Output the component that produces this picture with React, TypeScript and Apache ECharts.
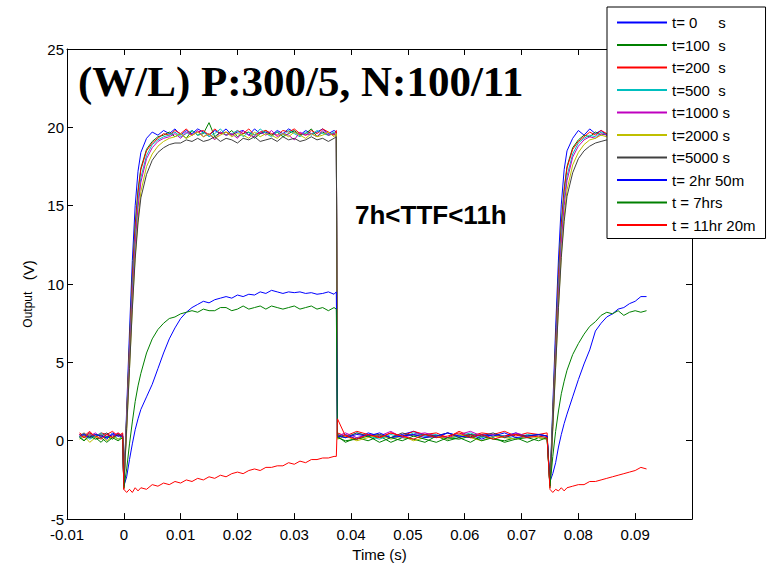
import React, { useEffect, useRef } from "react";
import * as echarts from "echarts";

// Time samples (s), shared by every trace
const times = [
  -0.0078, -0.007, -0.006, -0.005, -0.004, -0.003, -0.002, -0.001, -0.0002,
  0, 0.0005, 0.001, 0.0015, 0.002, 0.0025, 0.003, 0.004, 0.005, 0.006, 0.007,
  0.008, 0.009, 0.01, 0.011, 0.012, 0.013, 0.014, 0.015, 0.016, 0.017,
  0.018, 0.019, 0.02, 0.021, 0.022, 0.023, 0.024, 0.025, 0.026, 0.027,
  0.028, 0.029, 0.03, 0.031, 0.032, 0.033, 0.034, 0.035, 0.036, 0.037, 0.0374,
  0.0376, 0.039, 0.041, 0.043, 0.045, 0.047, 0.049, 0.051, 0.053, 0.055,
  0.057, 0.059, 0.061, 0.063, 0.065, 0.067, 0.069, 0.071, 0.073, 0.0745,
  0.075, 0.0755, 0.076, 0.0765, 0.077, 0.0775, 0.078, 0.079, 0.08, 0.081, 0.082,
  0.083, 0.084, 0.085, 0.086, 0.087, 0.088, 0.089, 0.09, 0.091, 0.092,
];

const v_t0 = [
  0.4, 0.2, 0.5, 0.3, 0.4, 0.1, 0.5, 0.3, 0.4,
  -3.0, 2.0, 7.0, 11.5, 15.0, 17.2, 18.4, 19.3, 19.7, 19.5, 19.8,
  19.6, 19.9, 19.5, 19.8, 19.6, 19.9, 19.7, 19.5, 19.8, 19.6,
  19.9, 19.5, 19.7, 19.8, 19.5, 19.9, 19.6, 19.7, 19.5, 19.8,
  19.6, 19.9, 19.7, 19.5, 19.8, 19.6, 19.7, 19.9, 19.6, 19.8, 19.7,
  0.2, 0.4, 0.1, 0.5, 0.3, 0.2, 0.4, 0.6, 0.3, 0.2,
  0.5, 0.3, 0.4, 0.1, 0.4, 0.3, 0.5, 0.2, 0.4, 0.3,
  -2.8, 2.2, 7.2, 11.6, 15.1, 17.3, 18.5, 19.3, 19.8, 19.5, 19.9,
  19.6, 19.8, 19.5, 19.9, 19.7, 19.6, 19.8, 19.5, 19.7, 19.6,
];
const v_t100 = [
  0.3, 0.0, 0.4, 0.2, -0.1, 0.3, 0.1, 0.4, 0.2,
  -2.8, 1.6, 6.2, 10.5, 13.8, 16.0, 17.4, 18.6, 19.1, 19.4, 19.5,
  19.7, 19.4, 19.6, 19.3, 19.8, 19.5, 19.6, 20.3, 19.4, 19.7,
  19.5, 19.8, 19.4, 19.6, 19.7, 19.3, 19.6, 19.8, 19.5, 19.7,
  19.4, 19.6, 19.8, 19.5, 19.6, 19.9, 19.4, 19.7, 19.5, 19.6, 19.5,
  0.3, -0.1, 0.2, 0.0, 0.3, -0.1, 0.2, 0.1, -0.1, 0.3,
  0.0, 0.2, -0.1, 0.3, 0.1, 0.0, 0.2, -0.1, 0.2, 0.1,
  -2.9, 1.8, 6.4, 10.6, 13.9, 16.1, 17.5, 18.7, 19.2, 19.5, 19.4,
  19.7, 19.5, 19.6, 19.4, 19.7, 19.5, 19.6, 19.4, 19.7, 19.5,
];
const v_t200 = [
  0.5, 0.3, 0.6, 0.2, 0.5, 0.4, 0.6, 0.3, 0.5,
  -3.1, 1.5, 6.0, 10.2, 13.5, 15.8, 17.3, 18.5, 19.0, 19.3, 19.6,
  19.5, 19.8, 19.6, 19.9, 19.5, 19.7, 19.8, 19.5, 19.9, 19.6,
  19.7, 19.5, 19.8, 19.6, 19.9, 19.5, 19.7, 19.8, 19.6, 19.5,
  19.8, 19.7, 19.9, 19.6, 19.5, 19.8, 19.6, 19.9, 19.7, 19.5, 19.8,
  0.5, 0.3, 0.6, 0.4, 0.2, 0.5, 0.3, 0.6, 0.4, 0.5,
  0.2, 0.6, 0.3, 0.5, 0.4, 0.6, 0.3, 0.5, 0.4, 0.5,
  -3.0, 1.6, 6.1, 10.3, 13.6, 15.9, 17.4, 18.6, 19.1, 19.4, 19.7,
  19.5, 19.8, 19.6, 19.9, 19.5, 19.7, 19.8, 19.6, 19.7, 19.8,
];
const v_t500 = [
  0.2, 0.4, 0.1, 0.3, 0.5, 0.2, 0.4, 0.1, 0.3,
  -3.0, 1.2, 5.5, 9.6, 12.9, 15.3, 16.8, 18.2, 18.9, 19.2, 19.4,
  19.5, 19.7, 19.4, 19.6, 19.8, 19.5, 19.7, 19.4, 19.6, 19.9,
  19.5, 19.6, 19.8, 19.4, 19.7, 19.5, 19.9, 19.6, 19.4, 19.7,
  19.5, 19.8, 19.6, 19.4, 19.7, 19.5, 19.8, 19.6, 19.5, 19.7, 19.4,
  0.4, 0.2, 0.5, 0.3, 0.1, 0.4, 0.2, 0.5, 0.3, 0.4,
  0.1, 0.3, 0.5, 0.2, 0.4, 0.3, 0.1, 0.4, 0.3, 0.2,
  -3.0, 1.3, 5.6, 9.7, 13.0, 15.4, 16.9, 18.3, 19.0, 19.3, 19.5,
  19.4, 19.7, 19.5, 19.6, 19.8, 19.5, 19.7, 19.4, 19.6, 19.5,
];
const v_t1000 = [
  0.4, 0.2, 0.3, 0.5, 0.2, 0.4, 0.3, 0.5, 0.2,
  -2.9, 1.0, 5.2, 9.2, 12.5, 14.9, 16.5, 18.0, 18.7, 19.1, 19.3,
  19.4, 19.6, 19.3, 19.7, 19.5, 19.8, 19.4, 19.6, 19.2, 19.7,
  19.5, 19.6, 19.3, 19.8, 19.5, 19.4, 19.7, 19.5, 19.8, 19.4,
  19.6, 19.5, 19.2, 19.7, 19.5, 19.6, 19.4, 19.8, 19.5, 19.6, 19.5,
  0.3, 0.5, 0.2, 0.4, 0.3, 0.6, 0.2, 0.4, 0.5, 0.3,
  0.2, 0.4, 0.6, 0.3, 0.4, 0.2, 0.5, 0.3, 0.4, 0.3,
  -3.0, 1.0, 5.3, 9.3, 12.6, 15.0, 16.6, 18.1, 18.8, 19.2, 19.4,
  19.3, 19.6, 19.5, 19.7, 19.4, 19.6, 19.5, 19.7, 19.4, 19.6,
];
const v_t2000 = [
  0.1, 0.3, -0.1, 0.2, 0.4, 0.0, 0.3, 0.1, 0.2,
  -3.0, 0.6, 4.6, 8.5, 11.8, 14.2, 15.9, 17.5, 18.3, 18.8, 19.1,
  19.3, 19.4, 19.6, 19.3, 19.5, 19.7, 19.4, 19.6, 19.3, 19.5,
  19.7, 19.4, 19.6, 19.5, 19.3, 19.7, 19.4, 19.6, 19.5, 19.3,
  19.6, 19.4, 19.7, 19.5, 19.3, 19.6, 19.4, 19.5, 19.7, 19.4, 19.6,
  0.1, 0.3, 0.0, 0.2, 0.4, 0.1, 0.3, 0.0, 0.2, 0.3,
  0.1, 0.4, 0.2, 0.0, 0.3, 0.2, 0.1, 0.3, 0.2, 0.1,
  -3.0, 0.7, 4.7, 8.6, 11.9, 14.3, 16.0, 17.6, 18.4, 18.9, 19.2,
  19.3, 19.5, 19.4, 19.6, 19.3, 19.5, 19.6, 19.4, 19.5, 19.6,
];
const v_t5000 = [
  0.3, 0.5, 0.2, 0.4, 0.3, 0.5, 0.2, 0.4, 0.3,
  -2.9, 0.8, 4.6, 8.4, 11.6, 13.9, 15.5, 17.0, 17.9, 18.4, 18.7,
  18.9, 19.0, 19.0, 19.2, 19.1, 19.3, 19.1, 19.2, 19.4, 19.1,
  19.3, 19.2, 19.0, 19.3, 19.2, 19.4, 19.1, 19.2, 19.3, 19.1,
  19.4, 19.2, 19.3, 19.1, 19.2, 19.4, 19.2, 19.3, 19.1, 19.3, 19.4,
  0.4, 0.2, 0.5, 0.3, 0.4, 0.2, 0.5, 0.3, 0.4, 0.3,
  0.5, 0.2, 0.4, 0.3, 0.5, 0.2, 0.4, 0.3, 0.4, 0.3,
  -2.9, 0.9, 4.7, 8.5, 11.7, 14.0, 15.6, 17.1, 18.0, 18.5, 18.8,
  19.0, 19.1, 19.2, 19.1, 19.3, 19.2, 19.3, 19.2, 19.4, 19.3,
];
const v_2hr50m = [
  0.3, 0.4, 0.2, 0.4, 0.3, 0.2, 0.4, 0.3, 0.3,
  -2.9, -2.3, -1.2, -0.2, 0.7, 1.4, 2.0, 2.8, 3.6, 4.6, 5.6,
  6.5, 7.2, 7.8, 8.2, 8.5, 8.7, 8.9, 8.8, 9.0, 9.1,
  9.2, 9.1, 9.3, 9.2, 9.35, 9.3, 9.5, 9.4, 9.6, 9.5,
  9.4, 9.5, 9.45, 9.5, 9.4, 9.45, 9.35, 9.4, 9.5, 9.35, 9.5,
  0.3, 0.2, 0.4, 0.3, 0.5, 0.2, 0.3, 0.4, 0.2, 0.3,
  0.5, 0.3, 0.2, 0.4, 0.3, 0.5, 0.2, 0.3, 0.4, 0.3,
  -2.6, -2.1, -1.4, -0.4, 0.4, 1.1, 1.7, 2.8, 3.9, 4.9, 5.8,
  7.0, 7.5, 7.9, 8.1, 8.4, 8.5, 8.75, 8.9, 9.2, 9.2,
];
const v_7hrs = [
  0.2, 0.0, 0.3, 0.1, 0.2, -0.1, 0.2, 0.0, 0.2,
  -3.0, -1.8, -0.2, 1.2, 2.5, 3.5, 4.3, 5.6, 6.5, 7.1, 7.5,
  7.8, 7.9, 8.1, 8.2, 8.3, 8.2, 8.4, 8.3, 8.3, 8.5,
  8.5, 8.3, 8.4, 8.6, 8.4, 8.5, 8.6, 8.4, 8.6, 8.5,
  8.4, 8.5, 8.6, 8.4, 8.5, 8.6, 8.4, 8.5, 8.3, 8.5, 8.4,
  0.2, 0.0, 0.1, 0.3, -0.1, 0.2, 0.0, 0.3, 0.1, -0.1,
  0.2, 0.1, 0.3, 0.0, 0.2, -0.1, 0.1, 0.2, 0.0, 0.2,
  -2.9, -1.0, 0.6, 1.9, 3.0, 3.8, 4.5, 5.5, 6.2, 6.8, 7.3,
  7.6, 8.0, 8.2, 8.1, 8.3, 8.0, 8.2, 8.3, 8.2, 8.3,
];
const v_11hr20m = [
  0.4, 0.2, 0.5, 0.3, 0.1, 0.4, 0.2, 0.5, 0.3,
  -3.1, -3.3, -3.1, -3.3, -3.0, -3.2, -3.0, -3.1, -2.8, -2.9, -2.7,
  -2.8, -2.6, -2.7, -2.5, -2.6, -2.4, -2.5, -2.3, -2.4, -2.2,
  -2.3, -2.1, -2.0, -2.1, -1.9, -1.8, -1.9, -1.7, -1.7, -1.6,
  -1.6, -1.4, -1.5, -1.3, -1.4, -1.2, -1.2, -1.1, -1.1, -1.0, -1.0,
  1.4, 0.3, 0.1, 0.4, 0.2, 0.5, 0.3, 0.1, 0.4, 0.2,
  0.3, 0.5, 0.2, 0.4, 0.1, 0.3, 0.4, 0.2, 0.3, 0.2,
  -3.1, -3.3, -3.1, -3.2, -3.0, -3.2, -3.0, -2.9, -2.8, -2.8, -2.6,
  -2.6, -2.5, -2.4, -2.3, -2.2, -2.1, -2.0, -1.9, -1.7, -1.8,
];

const seriesNames = [
  "t= 0     s", "t=100  s", "t=200  s", "t=500  s", "t=1000 s",
  "t=2000 s", "t=5000 s", "t= 2hr 50m", "t = 7hrs", "t = 11hr 20m",
];
const seriesValues = [v_t0, v_t100, v_t200, v_t500, v_t1000, v_t2000, v_t5000, v_2hr50m, v_7hrs, v_11hr20m];
const seriesColors = [
  "#0000FF", "#008000", "#FF0000", "#00BFBF", "#BF00BF",
  "#BFBF00", "#404040", "#0000FF", "#008000", "#FF0000",
];

const xTickLabels = ["-0.01", "0", "0.01", "0.02", "0.03", "0.04", "0.05", "0.06", "0.07", "0.08", "0.09", ""];
const yTickLabels = ["-5", "0", "5", "10", "15", "20", "25"];
const titleText = "(W/L) P:300/5, N:100/11";
const noteText = "7h<TTF<11h";
const xName = "Time (s)";

const SANS = '"Liberation Sans", Arial, Helvetica, sans-serif';
const SERIF = '"Liberation Serif", "Times New Roman", serif';

export default function App() {
  const ref = useRef<HTMLDivElement>(null);
  useEffect(() => {
    if (!ref.current) return;
    const chart = echarts.init(ref.current, undefined, { renderer: "svg" });
    const axisLine = { show: true, onZero: false, lineStyle: { color: "#000", width: 1 } };
    const axisTick = { show: true, inside: true, length: 6, lineStyle: { color: "#000", width: 1 } };
    const xBase = { type: "value", min: -0.01, max: 0.1, interval: 0.01, splitLine: { show: false } };
    const yBase = { type: "value", min: -5, max: 25, interval: 5, splitLine: { show: false } };
    const option: any = {
      animation: false,
      backgroundColor: "#fff",
      grid: { left: 67, right: 77, top: 49, bottom: 46, containLabel: false },
      xAxis: [
        {
          ...xBase,
          position: "bottom",
          axisLine,
          axisTick,
          axisLabel: {
            color: "#000",
            fontSize: 15,
            fontFamily: SANS,
            margin: 8,
            formatter: (v: number) => xTickLabels[Math.round((v + 0.01) / 0.01)] ?? "",
          },
          name: xName,
          nameLocation: "middle",
          nameGap: 27,
          nameTextStyle: { color: "#000", fontSize: 15, fontFamily: SANS },
        },
        { ...xBase, position: "top", axisLine, axisTick, axisLabel: { show: false } },
      ],
      yAxis: [
        {
          ...yBase,
          position: "left",
          axisLine,
          axisTick,
          axisLabel: {
            color: "#000",
            fontSize: 15,
            fontFamily: SANS,
            margin: 3,
            formatter: (v: number) => yTickLabels[Math.round((v + 5) / 5)] ?? "",
          },
        },
        { ...yBase, position: "right", axisLine, axisTick, axisLabel: { show: false } },
      ],
      legend: {
        orient: "vertical",
        left: 607,
        top: 7,
        padding: [8, 10, 6, 9],
        itemWidth: 50,
        itemHeight: 14,
        itemGap: 7.5,
        backgroundColor: "#fff",
        borderColor: "#000",
        borderWidth: 1,
        itemStyle: { opacity: 0 },
        textStyle: { color: "#000", fontSize: 15, fontFamily: SANS },
        data: seriesNames,
        z: 10,
      },
      series: seriesNames.map((name, i) => ({
        name,
        type: "line",
        xAxisIndex: 0,
        yAxisIndex: 0,
        symbol: "none",
        showSymbol: false,
        color: seriesColors[i],
        lineStyle: { color: seriesColors[i], width: 1 },
        data: times.map((t, k) => [t, seriesValues[i][k]]).filter((p) => p[1] !== undefined),
      })),
      graphic: [
        {
          type: "text",
          x: 78,
          y: 81,
          z: 20,
          style: { text: titleText, font: `bold 43px ${SERIF}`, fill: "#000", align: "left", verticalAlign: "middle" },
        },
        {
          type: "text",
          x: 355,
          y: 215,
          z: 20,
          style: { text: noteText, font: `bold 26px ${SANS}`, fill: "#000", align: "left", verticalAlign: "middle" },
        },
        {
          type: "text",
          x: 28,
          y: 294,
          rotation: Math.PI / 2,
          z: 20,
          style: {
            text: "{a|Output} {b|(V)}",
            fill: "#000",
            align: "center",
            verticalAlign: "middle",
            rich: {
              a: { fontSize: 12, fontFamily: SANS, fill: "#000" },
              b: { fontSize: 15, fontFamily: SANS, fill: "#000", padding: [0, 0, 0, 8] },
            },
          },
        },
      ],
    };
    chart.setOption(option);
    return () => chart.dispose();
  }, []);
  return (
    <div
      ref={ref}
      style={{ position: "fixed", left: 0, top: 0, width: 769, height: 567, background: "#fff" }}
    />
  );
}
